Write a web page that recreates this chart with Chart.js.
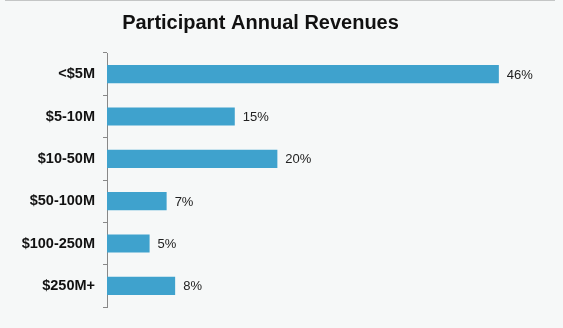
<!DOCTYPE html>
<html>
<head>
<meta charset="utf-8">
<script src="https://cdn.jsdelivr.net/npm/chart.js@4/dist/chart.umd.min.js"></script>
<style>
  body { margin: 0; background: #f6f8f8; }
  #wrap { width: 563px; height: 328px; position: relative; }
  #topline { position: absolute; left: 5px; right: 8px; top: 0; height: 1px; background: #c4c6c6; }
</style>
</head>
<body>
<div id="wrap">
  <div id="topline"></div>
  <canvas id="revenue-chart" width="563" height="328"></canvas>
</div>
<script>
// Revenue bands and share of participants (%)
const categories = ['<$5M', '$5-10M', '$10-50M', '$50-100M', '$100-250M', '$250M+'];
const shares = [46, 15, 20, 7, 5, 8];

// Write the percentage just past the end of each bar
const valueLabels = {
    id: 'valueLabels',
    afterDatasetsDraw(chart) {
        const ctx = chart.ctx;
        const meta = chart.getDatasetMeta(0);
        ctx.save();
        ctx.font = '13px Arial, "Liberation Sans", sans-serif';
        ctx.fillStyle = '#222';
        ctx.textAlign = 'left';
        ctx.textBaseline = 'middle';
        meta.data.forEach((bar, i) => {
            ctx.fillText(shares[i] + '%', bar.x + 8, bar.y + 1);
        });
        ctx.restore();
    }
};

const chartContext = document.getElementById('revenue-chart').getContext('2d');

const revenueChart = new Chart(chartContext, {
    type: 'bar',
    data: {
        labels: categories,
        datasets: [{
            data: shares,
            backgroundColor: '#3fa2cd',
            barPercentage: 0.43,
            categoryPercentage: 1
        }]
    },
    options: {
        indexAxis: 'y',
        responsive: false,
        animation: false,
        layout: {
            padding: { top: 0, right: 42, bottom: 21, left: 0 }
        },
        plugins: {
            legend: { display: false },
            tooltip: { enabled: false },
            title: {
                display: true,
                text: 'Participant Annual Revenues',
                color: '#111',
                font: { family: 'Arial, "Liberation Sans", sans-serif', size: 20, weight: 'bold' },
                padding: { top: 11, bottom: 18 }
            }
        },
        scales: {
            x: {
                display: false,
                min: 0,
                max: 48.6
            },
            y: {
                afterFit(scale) { scale.width = 107; },
                border: { color: '#888', width: 1 },
                grid: {
                    offset: true,
                    drawOnChartArea: false,
                    tickLength: 4,
                    color: '#888'
                },
                ticks: {
                    color: '#111',
                    padding: 8,
                    font: { family: 'Arial, "Liberation Sans", sans-serif', size: 14.5, weight: 'bold' }
                }
            }
        }
    },
    plugins: [valueLabels]
});
</script>
</body>
</html>
